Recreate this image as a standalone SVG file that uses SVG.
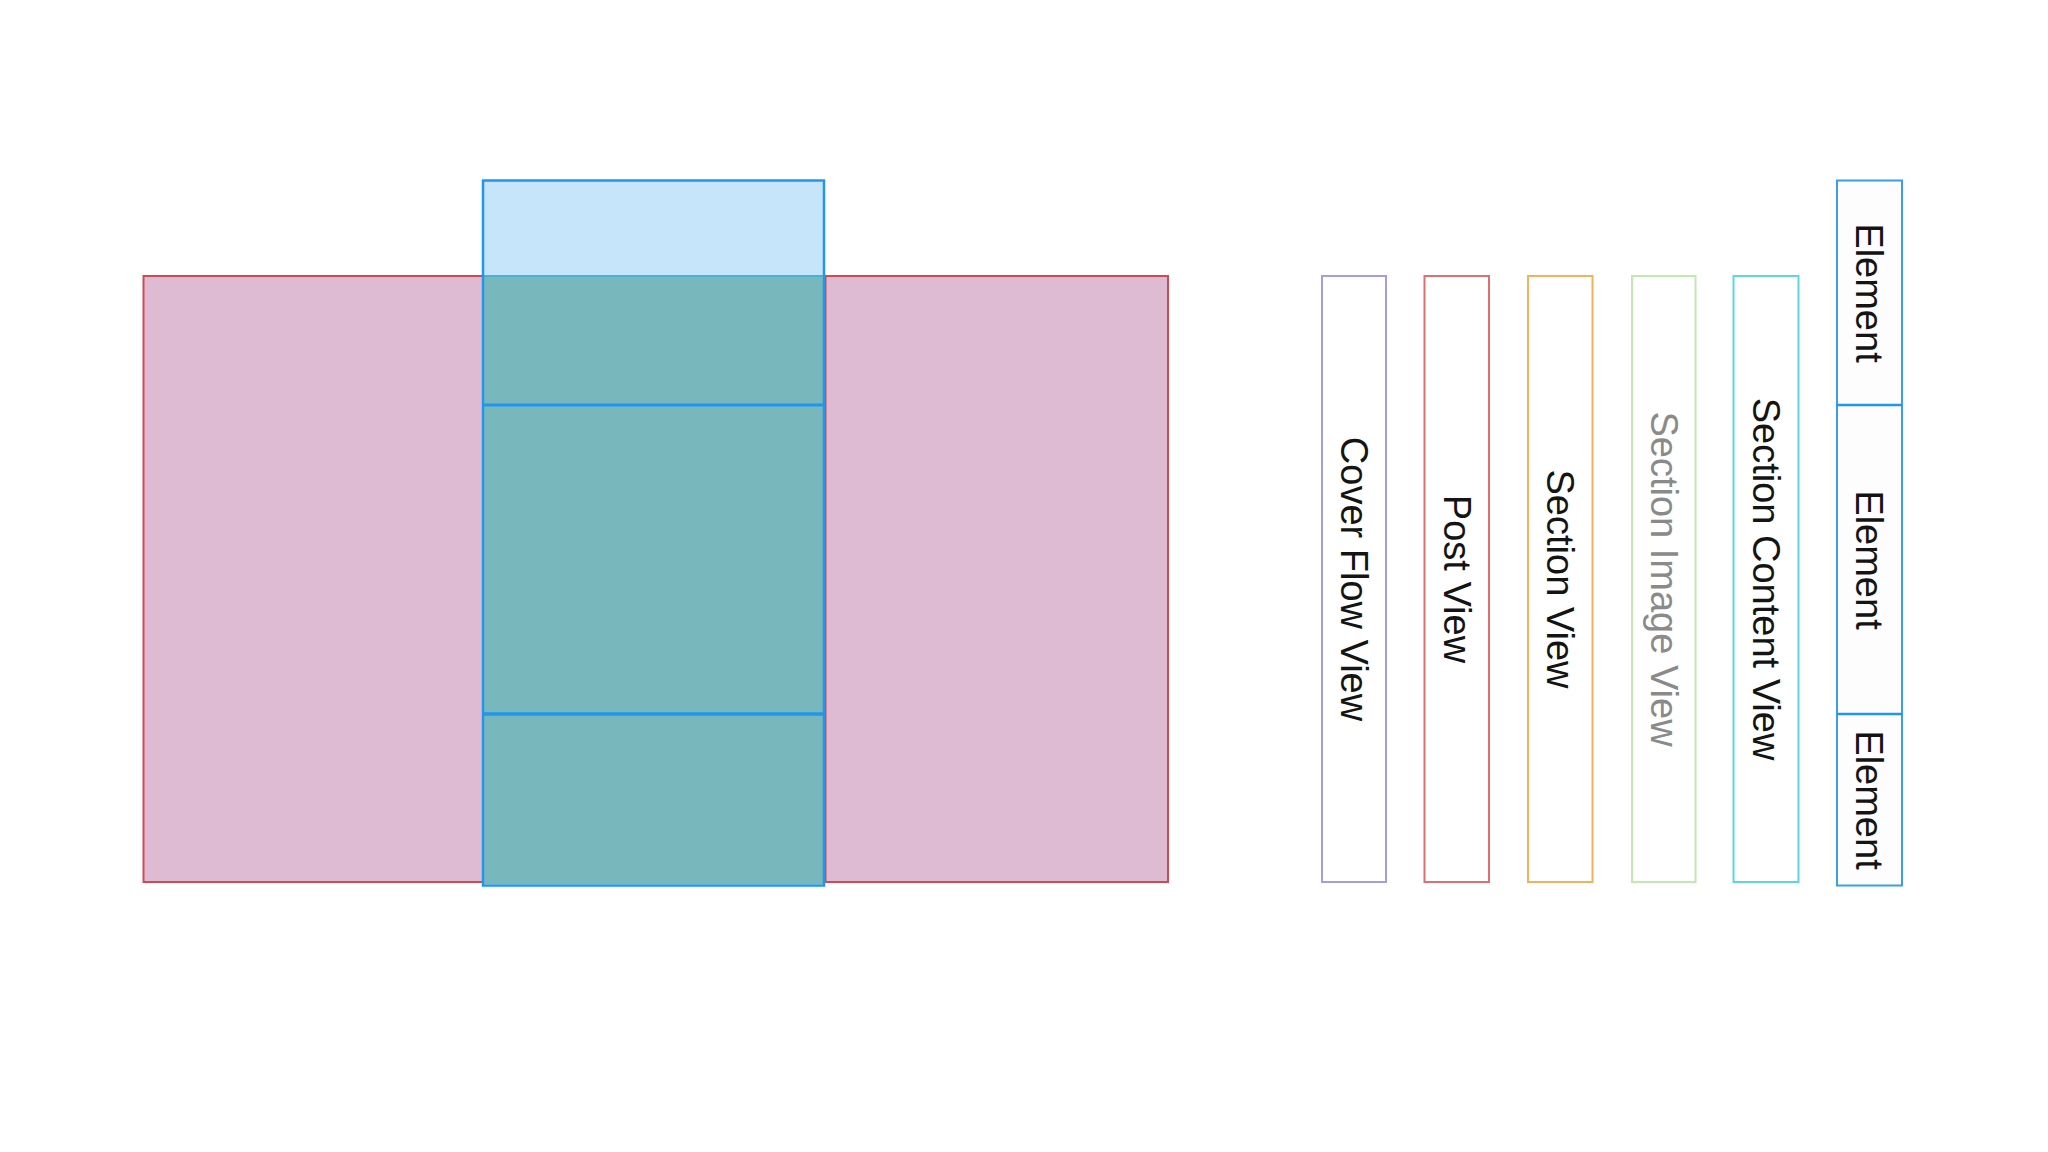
<svg xmlns="http://www.w3.org/2000/svg" width="2048" height="1152" viewBox="0 0 2048 1152">
  <style>
    .lbl { font-family: "Liberation Sans", Arial, sans-serif; font-size: 38px; fill: #141414; text-anchor: middle; }
    .gray { fill: #8a8a8a; }
    .pink { fill: #dfbbd3; stroke: #d04a52; stroke-width: 2; }
    .bar { fill: #ffffff; stroke-width: 2; }
    .blue { stroke: #2196ee; fill: none; stroke-width: 2.5; }
  </style>
  <rect x="0" y="0" width="2048" height="1152" fill="#ffffff"/>

  <g id="left-panel">
    <rect class="pink" x="143.5" y="276" width="340" height="606"/>
  </g>
  <g id="right-panel">
    <rect class="pink" x="825.5" y="276" width="342.5" height="606"/>
  </g>
  <g id="center-column">
    <rect x="483" y="180.5" width="341" height="95.5" fill="#c6e4fa"/>
    <rect x="483" y="276" width="341" height="608" fill="#78b8bc"/>
    <line x1="483" y1="276" x2="824" y2="276" stroke="#45b3cf" stroke-width="2"/>
    <line x1="483" y1="405" x2="824" y2="405" stroke="#2196ee" stroke-width="3"/>
    <line x1="483" y1="714" x2="824" y2="714" stroke="#2196ee" stroke-width="3.5"/>
    <rect class="blue" x="483" y="180.5" width="341" height="705"/>
  </g>

  <g id="cover-flow-view">
    <rect class="bar" x="1322" y="276" width="64" height="606" stroke="#a99be0"/>
    <text class="lbl" transform="translate(1354 579) rotate(90)" x="0" y="13.5">Cover Flow View</text>
  </g>
  <g id="post-view">
    <rect class="bar" x="1424.5" y="276" width="64.5" height="606" stroke="#de6e72"/>
    <text class="lbl" transform="translate(1457 579) rotate(90)" x="0" y="13.5">Post View</text>
  </g>
  <g id="section-view">
    <rect class="bar" x="1528" y="276" width="64.5" height="606" stroke="#f0b25c"/>
    <text class="lbl" transform="translate(1560 579) rotate(90)" x="0" y="13.5">Section View</text>
  </g>
  <g id="section-image-view">
    <rect class="bar" x="1632" y="276" width="63.5" height="606" stroke="#c2e8ae"/>
    <text class="lbl gray" transform="translate(1664 579) rotate(90)" x="0" y="13.5">Section Image View</text>
  </g>
  <g id="section-content-view">
    <rect class="bar" x="1733.5" y="276" width="65" height="606" stroke="#5dd5e3"/>
    <text class="lbl" transform="translate(1766 579) rotate(90)" x="0" y="13.5">Section Content View</text>
  </g>
  <g id="element-column">
    <rect x="1837" y="180.5" width="65" height="705" fill="#fcfdfc" stroke="#3a9ee8" stroke-width="2"/>
    <line x1="1837" y1="405" x2="1902" y2="405" stroke="#2196ee" stroke-width="2.5"/>
    <line x1="1837" y1="714" x2="1902" y2="714" stroke="#2196ee" stroke-width="2.5"/>
  </g>
  <g id="element-1">
    <text class="lbl" transform="translate(1869 293) rotate(90)" x="0" y="13.5">Element</text>
  </g>
  <g id="element-2">
    <text class="lbl" transform="translate(1869 560) rotate(90)" x="0" y="13.5">Element</text>
  </g>
  <g id="element-3">
    <text class="lbl" transform="translate(1869 800) rotate(90)" x="0" y="13.5">Element</text>
  </g>
  <g id="connectors"></g>
</svg>
